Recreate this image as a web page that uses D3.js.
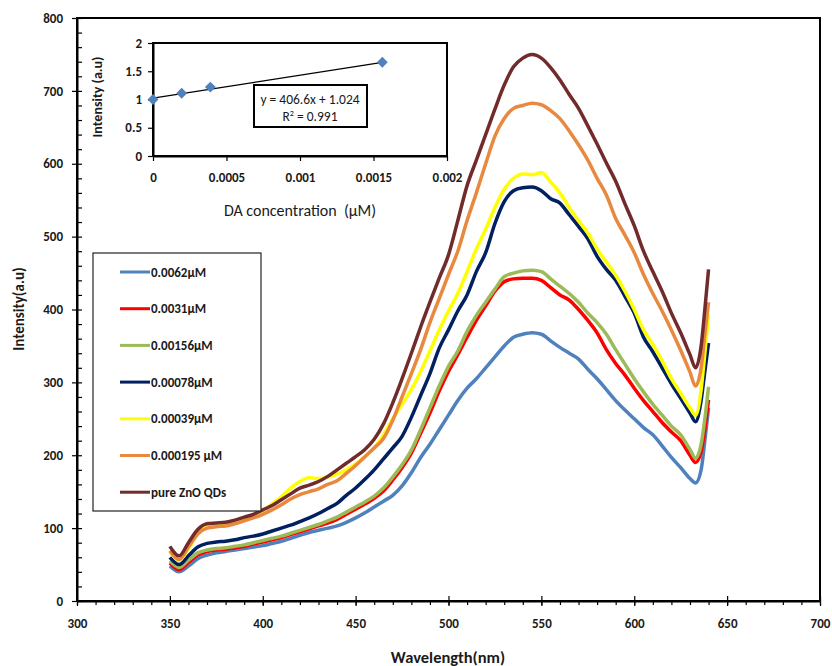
<!DOCTYPE html>
<html>
<head>
<meta charset="utf-8">
<script src="https://cdn.jsdelivr.net/npm/d3@7"></script>
<style>
  body { margin: 0; background: #fff; }
  text { font-family: Carlito, "Liberation Sans", Arial, sans-serif; fill: #1a1a1a; }
  .tick text { font-weight: bold; font-size: 13px; }
  .domain { stroke: #000; stroke-width: 2px; }
  .tick line { stroke: #000; stroke-width: 1.2px; }
</style>
</head>
<body>
<svg id="chart"></svg>
<script>
// Wavelength (nm) of every sample
const wavelengths = [
  350, 355, 360, 365, 370, 375, 380, 385, 390, 395,
  400, 405, 410, 415, 420, 425, 430, 435, 440, 445,
  450, 455, 460, 465, 470, 475, 480, 485, 490, 495,
  500, 505, 510, 515, 520, 525, 530, 535, 540, 545,
  550, 555, 560, 565, 570, 575, 580, 585, 590, 595,
  600, 605, 610, 615, 620, 625, 630, 633, 636, 638, 640
];

// Intensity (a.u) of each spectrum
const blue0062 = [
  48, 40, 48, 58, 63, 66, 68, 70, 72, 74,
  76, 79, 82, 86, 90, 94, 97, 100, 103, 108,
  114, 121, 129, 137, 145, 158, 176, 197, 215, 235,
  255, 275, 292, 305, 320, 335, 350, 362, 366, 368,
  366, 357, 348, 340, 332, 318, 305, 290, 275, 262,
  250, 238, 228, 213, 197, 183, 168, 162, 180, 220, 265
];
const red0031 = [
  52, 43, 53, 63, 68, 70, 71, 73, 75, 78,
  81, 84, 87, 91, 95, 99, 103, 107, 112, 119,
  126, 133, 141, 151, 166, 183, 203, 230, 258, 288,
  315, 338, 362, 385, 405, 425, 438, 442, 443, 443,
  440, 430, 420, 413, 400, 385, 368, 345, 326, 310,
  292, 275, 260, 245, 232, 220, 200, 190, 205, 235, 276
];
const green00156 = [
  55, 46, 56, 66, 70, 72, 73, 75, 77, 80,
  83, 86, 89, 93, 97, 101, 105, 110, 115, 122,
  129, 136, 144, 155, 170, 187, 207, 235, 265, 295,
  322, 343, 370, 392, 410, 428, 445, 450, 453, 454,
  452, 442, 432, 422, 410, 395, 382, 366, 345, 325,
  305, 287, 270, 255, 240, 228, 208, 196, 215, 250, 294
];
const navy00078 = [
  60, 50, 62, 74, 79, 81, 82, 84, 87, 89,
  92, 96, 100, 104, 109, 114, 120, 127, 134, 145,
  155, 167, 180, 195, 210, 226, 252, 282, 312, 347,
  372, 398, 420, 452, 478, 518, 548, 563, 567, 568,
  563, 552, 546, 530, 514, 497, 473, 455, 440, 418,
  395, 362, 342, 320, 298, 278, 258, 246, 275, 315, 354
];
const yellow00039 = [
  68, 56, 72, 92, 101, 103, 104, 108, 113, 118,
  124, 133, 143, 155, 164, 169, 168, 170, 174, 180,
  188, 198, 210, 228, 250, 270, 290, 315, 343, 372,
  398, 422, 452, 483, 510, 540, 565, 580, 586, 585,
  588, 575, 560, 540, 522, 505, 483, 465, 447, 425,
  400, 372, 352, 330, 305, 285, 265, 255, 290, 340, 393
];
const orange000195 = [
  69, 57, 74, 92, 100, 102, 103, 106, 110, 114,
  119, 125, 132, 140, 146, 150, 154, 160, 165, 175,
  186, 198, 210, 223, 248, 280, 312, 345, 382, 415,
  448, 480, 522, 560, 600, 638, 662, 676, 680, 683,
  681, 673, 662, 645, 626, 605, 580, 557, 525, 502,
  478, 448, 422, 398, 372, 344, 314, 295, 320, 365, 410
];
const pureZnO = [
  75, 62, 80, 98, 106, 107, 108, 111, 115, 119,
  125, 131, 139, 147, 155, 159, 164, 171, 180, 189,
  198, 208, 222, 243, 272, 305, 340, 376, 410, 443,
  475, 522, 570, 605, 640, 675, 708, 733, 745, 750,
  745, 732, 715, 695, 676, 652, 627, 601, 576, 545,
  515, 480, 452, 425, 395, 368, 338, 320, 350, 400, 455
];

const seriesNames = ["0.0062µM", "0.0031µM", "0.00156µM", "0.00078µM", "0.00039µM", "0.000195 µM", "pure ZnO QDs"];
const seriesValues = [blue0062, red0031, green00156, navy00078, yellow00039, orange000195, pureZnO];
const seriesColors = ["#4F81BD", "#FF0000", "#9BBB59", "#002060", "#FFFF00", "#E8893F", "#722B2B"];

const xTicks = [300, 350, 400, 450, 500, 550, 600, 650, 700];
const yTicks = [0, 100, 200, 300, 400, 500, 600, 700, 800];

// Inset: DA calibration
const daConc = [0, 0.000195, 0.00039, 0.00156];
const daIntensity = [1.0, 1.11, 1.22, 1.66];
const fitSlope = 406.6;
const fitIntercept = 1.024;
const insetXTicks = [0, 0.0005, 0.001, 0.0015, 0.002];
const insetYTicks = [0, 0.5, 1, 1.5, 2];

const width = 832, height = 666;
const svg = d3.select("#chart").attr("width", width).attr("height", height);

// Main plot scales
const plot = {left: 77, right: 820, top: 18, bottom: 601};
const x = d3.scaleLinear().domain([300, 700]).range([plot.left, plot.right]);
const y = d3.scaleLinear().domain([0, 800]).range([plot.bottom, plot.top]);

// Minor ticks
svg.append("g")
  .attr("transform", `translate(0, ${plot.bottom})`)
  .call(d3.axisBottom(x).tickValues(d3.range(300, 701, 10)).tickSize(4).tickFormat(""))
  .call(g => g.select(".domain").remove());
svg.append("g")
  .attr("transform", `translate(${plot.left}, 0)`)
  .call(d3.axisRight(y).tickValues(d3.range(0, 801, 20)).tickSize(5).tickFormat(""))
  .call(g => g.select(".domain").remove());
// inner half of the major ticks
svg.append("g")
  .attr("transform", `translate(0, ${plot.bottom})`)
  .call(d3.axisTop(x).tickValues(xTicks).tickSize(5).tickFormat(""))
  .call(g => g.select(".domain").remove());

// Plot frame
svg.append("rect")
  .attr("x", plot.left).attr("y", plot.top)
  .attr("width", plot.right - plot.left).attr("height", plot.bottom - plot.top)
  .attr("fill", "none").attr("stroke", "#000").attr("stroke-width", 2);

// Major axes
svg.append("g")
  .attr("transform", `translate(0, ${plot.bottom})`)
  .call(d3.axisBottom(x).tickValues(xTicks).tickSize(5).tickPadding(13).tickSizeOuter(0));
svg.append("g")
  .attr("transform", `translate(${plot.left}, 0)`)
  .call(d3.axisLeft(y).tickValues(yTicks).tickSize(5).tickPadding(9).tickSizeOuter(0));

// Axis titles
svg.append("text")
  .attr("x", 448).attr("y", 663)
  .attr("text-anchor", "middle")
  .attr("font-weight", "bold").attr("font-size", "16.5px")
  .text("Wavelength(nm)");
svg.append("text")
  .attr("transform", "translate(24, 309) rotate(-90)")
  .attr("text-anchor", "middle")
  .attr("font-weight", "bold").attr("font-size", "15px")
  .text("Intensity(a.u)");

// Spectra
const line = d3.line()
  .x((d, i) => x(wavelengths[i]))
  .y(d => y(d))
  .curve(d3.curveMonotoneX);

svg.append("g")
  .selectAll("path")
  .data(seriesValues)
  .join("path")
  .attr("d", d => line(d))
  .attr("fill", "none")
  .attr("stroke", (d, i) => seriesColors[i])
  .attr("stroke-width", 3.5)
  .attr("stroke-linejoin", "round");

// Legend
const legend = svg.append("g").attr("class", "legend");
legend.append("rect")
  .attr("x", 93).attr("y", 253).attr("width", 168).attr("height", 258)
  .attr("fill", "#fff").attr("stroke", "#222").attr("stroke-width", 1.2);
const legendItems = legend.selectAll("g.item")
  .data(seriesNames)
  .join("g")
  .attr("class", "item")
  .attr("transform", (d, i) => `translate(0, ${272 + i * 36.7})`);
legendItems.append("line")
  .attr("x1", 120).attr("x2", 150).attr("y1", 0).attr("y2", 0)
  .attr("stroke", (d, i) => seriesColors[i])
  .attr("stroke-width", 3);
legendItems.append("text")
  .attr("x", 151).attr("y", 0)
  .attr("dy", "0.35em")
  .attr("font-weight", "bold").attr("font-size", "13px")
  .text(d => d);

// Inset chart
const inset = {left: 153, right: 447, top: 43, bottom: 156};
const ix = d3.scaleLinear().domain([0, 0.002]).range([inset.left, inset.right]);
const iy = d3.scaleLinear().domain([0, 2]).range([inset.bottom, inset.top]);
const ig = svg.append("g").attr("class", "inset");

ig.append("rect")
  .attr("x", inset.left).attr("y", inset.top)
  .attr("width", inset.right - inset.left).attr("height", inset.bottom - inset.top)
  .attr("fill", "#fff").attr("stroke", "#000").attr("stroke-width", 2);

ig.append("g")
  .attr("transform", `translate(0, ${inset.bottom})`)
  .call(d3.axisBottom(ix).tickValues(insetXTicks).tickFormat(d => String(d)).tickSize(5).tickPadding(12).tickSizeOuter(0))
  .call(g => g.select(".domain").attr("stroke-width", 1.5));
ig.append("g")
  .attr("transform", `translate(${inset.left}, 0)`)
  .call(d3.axisLeft(iy).tickValues(insetYTicks).tickFormat(d => String(d)).tickSize(5).tickPadding(6).tickSizeOuter(0))
  .call(g => g.select(".domain").attr("stroke-width", 1.5));

// trend line
ig.append("line")
  .attr("x1", ix(0)).attr("y1", iy(fitIntercept))
  .attr("x2", ix(daConc[daConc.length - 1]))
  .attr("y2", iy(fitSlope * daConc[daConc.length - 1] + fitIntercept))
  .attr("stroke", "#000").attr("stroke-width", 1.2);

ig.selectAll("path.pt")
  .data(daConc)
  .join("path")
  .attr("class", "pt")
  .attr("d", d3.symbol(d3.symbolDiamond2, 75))
  .attr("transform", (d, i) => `translate(${ix(d)}, ${iy(daIntensity[i])})`)
  .attr("fill", "#4F81BD");

// equation box
ig.append("rect")
  .attr("x", 254).attr("y", 85).attr("width", 113).attr("height", 42)
  .attr("fill", "#fff").attr("stroke", "#000").attr("stroke-width", 2);
ig.append("text")
  .attr("x", 310).attr("y", 99).attr("dy", "0.35em")
  .attr("text-anchor", "middle").attr("font-size", "13.5px")
  .text(`y = ${fitSlope}x + ${fitIntercept}`);
const r2 = ig.append("text")
  .attr("x", 310).attr("y", 116).attr("dy", "0.35em")
  .attr("text-anchor", "middle").attr("font-size", "13.5px");
r2.append("tspan").text("R");
r2.append("tspan").attr("dy", "-5").attr("font-size", "8px").text("2");
r2.append("tspan").attr("dy", "5").text(" = 0.991");

ig.append("text")
  .attr("x", 300).attr("y", 216)
  .attr("text-anchor", "middle").attr("font-size", "16px")
  .style("white-space", "pre")
  .text("DA concentration  (µM)");
ig.append("text")
  .attr("transform", "translate(102, 97) rotate(-90)")
  .attr("text-anchor", "middle")
  .attr("font-weight", "bold").attr("font-size", "14px")
  .text("Intensity (a.u)");
</script>
</body>
</html>
